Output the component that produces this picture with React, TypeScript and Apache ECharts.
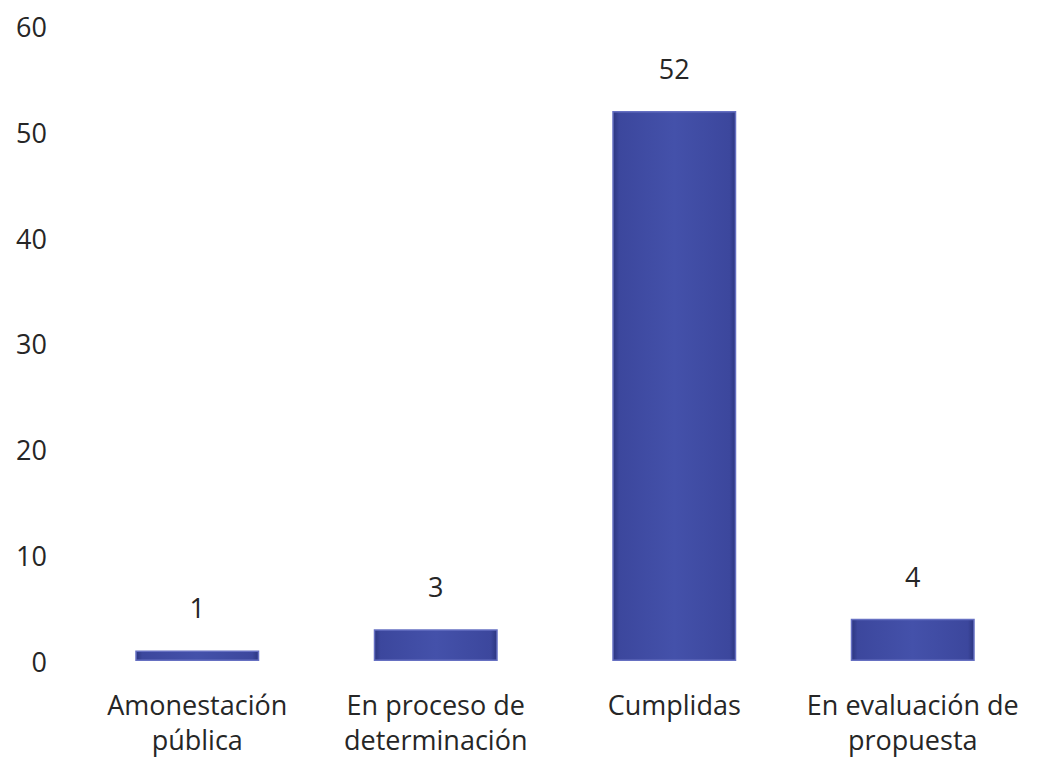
import React, { useEffect, useRef } from "react";
import * as echarts from "echarts";

const categories = ["Amonestación\npública", "En proceso de\ndeterminación", "Cumplidas", "En evaluación de\npropuesta"];
const values = [1, 3, 52, 4];
const yTicks = { min: 0, max: 60, interval: 10 };

export default function App() {
  const ref = useRef<HTMLDivElement>(null);
  useEffect(() => {
    if (!ref.current) return;
    const chart = echarts.init(ref.current, null, { renderer: "svg" });
    const font = "'Open Sans', 'Noto Sans', sans-serif";
    const barColor = new echarts.graphic.LinearGradient(0, 0, 1, 0, [
      { offset: 0, color: "#2c3680" },
      { offset: 0.05, color: "#3c479d" },
      { offset: 0.5, color: "#4451aa" },
      { offset: 0.95, color: "#3c479d" },
      { offset: 1, color: "#2c3680" },
    ]);
    chart.setOption({
      animation: false,
      grid: { left: 70, top: 18.5, width: 981, height: 639, containLabel: false },
      xAxis: {
        type: "category",
        data: categories,
        axisLine: { show: false },
        axisTick: { show: false },
        axisLabel: { color: "#262626", fontSize: 27, fontFamily: font, margin: 26, lineHeight: 35, interval: 0 },
      },
      yAxis: {
        type: "value",
        min: yTicks.min,
        max: yTicks.max,
        interval: yTicks.interval,
        splitLine: { show: false },
        axisLine: { show: false },
        axisTick: { show: false },
        axisLabel: { color: "#262626", fontSize: 27, fontFamily: font, margin: 31 },
      },
      series: [
        {
          type: "bar",
          data: values,
          barWidth: 124,
          itemStyle: { color: barColor, borderColor: "#6670c2", borderWidth: 1.5 },
          label: { show: true, position: "top", distance: 29, color: "#262626", fontSize: 27, fontFamily: font },
        },
      ],
    });
    return () => chart.dispose();
  }, []);
  return <div ref={ref} style={{ width: 1024, height: 749 }} />;
}
